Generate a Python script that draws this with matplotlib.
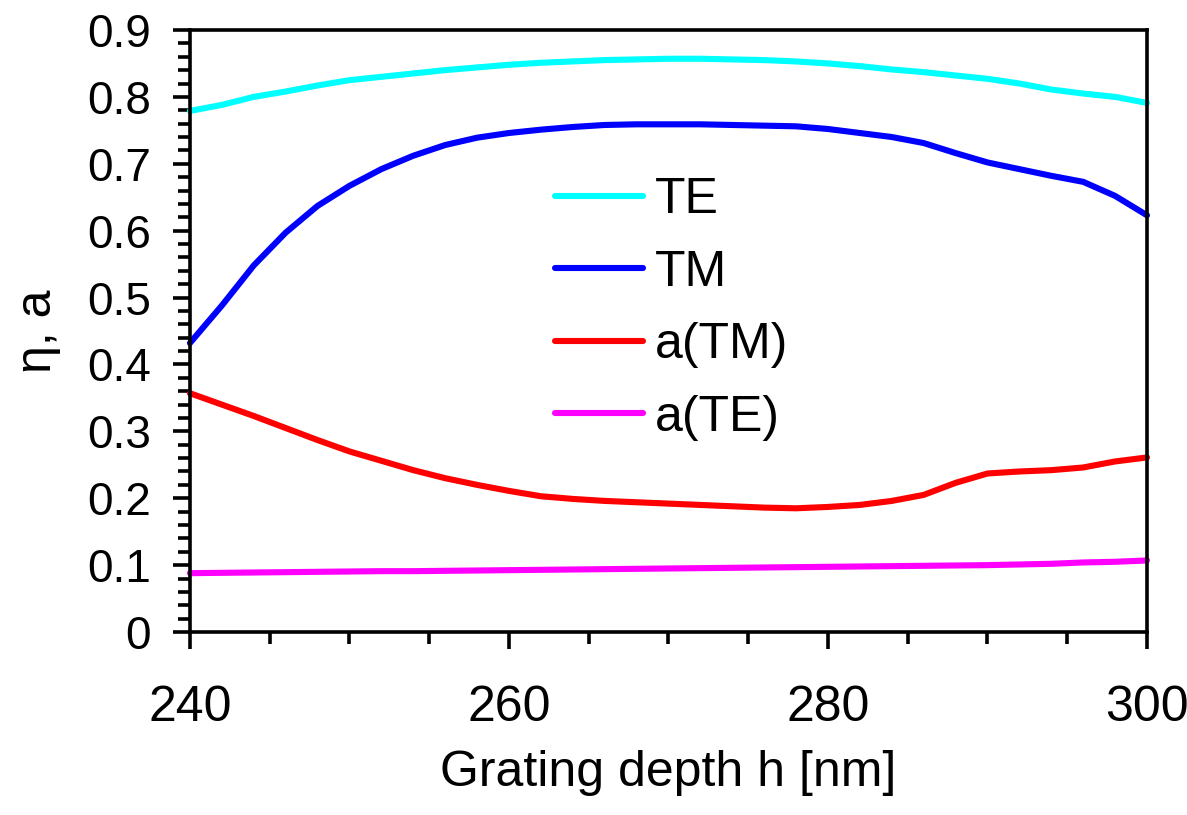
import matplotlib
matplotlib.use("Agg")
import matplotlib.pyplot as plt
from matplotlib.ticker import MultipleLocator

plt.rcParams['font.family'] = ['Liberation Sans', 'DejaVu Sans']

# --- DATA ---
depth = [240, 242, 244, 246, 248, 250, 252, 254, 256, 258, 260, 262, 264, 266, 268,
         270, 272, 274, 276, 278, 280, 282, 284, 286, 288, 290, 292, 294, 296, 298, 300]

eta_te = [0.779, 0.788, 0.800, 0.808, 0.817, 0.825, 0.830, 0.835, 0.840, 0.844, 0.848,
          0.851, 0.853, 0.855, 0.856, 0.857, 0.857, 0.856, 0.855, 0.853, 0.850, 0.846,
          0.841, 0.837, 0.832, 0.827, 0.820, 0.811, 0.805, 0.800, 0.791]

eta_tm = [0.432, 0.488, 0.548, 0.597, 0.637, 0.667, 0.692, 0.712, 0.728, 0.739, 0.746,
          0.751, 0.755, 0.758, 0.759, 0.759, 0.759, 0.758, 0.757, 0.756, 0.752, 0.746,
          0.740, 0.731, 0.716, 0.702, 0.692, 0.682, 0.673, 0.652, 0.623]

a_tm = [0.357, 0.340, 0.323, 0.305, 0.287, 0.270, 0.256, 0.242, 0.230, 0.220, 0.211,
        0.203, 0.199, 0.196, 0.194, 0.192, 0.190, 0.188, 0.186, 0.185, 0.187, 0.190,
        0.196, 0.205, 0.223, 0.237, 0.240, 0.242, 0.246, 0.255, 0.261]

a_te = [0.088, 0.0885, 0.089, 0.0895, 0.090, 0.0905, 0.091, 0.091, 0.0915, 0.092, 0.0925,
        0.093, 0.0935, 0.094, 0.0945, 0.095, 0.0955, 0.096, 0.0965, 0.097, 0.0975, 0.098,
        0.0985, 0.099, 0.0995, 0.100, 0.101, 0.102, 0.104, 0.105, 0.107]

series = [("TE", eta_te, "#00FFFF"),
          ("TM", eta_tm, "#0000FF"),
          ("a(TM)", a_tm, "#FF0000"),
          ("a(TE)", a_te, "#FF00FF")]

# --- FIGURE ---
fig = plt.figure(figsize=(11.87, 8.15), dpi=100)
ax = fig.add_axes([0.160, 0.2245, 0.8063, 0.7387])

for name, vals, col in series:
    ax.plot(depth, vals, color=col, lw=4.4, label=name,
            solid_capstyle='round', solid_joinstyle='round', clip_on=False)

ax.set_xlim(240, 300)
ax.set_ylim(0, 0.9)
ax.xaxis.set_major_locator(MultipleLocator(20))
ax.xaxis.set_minor_locator(MultipleLocator(5))
ax.yaxis.set_major_locator(MultipleLocator(0.1))
ax.yaxis.set_minor_locator(MultipleLocator(0.02))
ax.yaxis.set_major_formatter(plt.FuncFormatter(lambda v, p: "0" if abs(v) < 1e-9 else f"{v:.1f}"))

for s in ax.spines.values():
    s.set_linewidth(2.6)
ax.tick_params(which='major', direction='out', length=12, width=2.6)
ax.tick_params(which='minor', direction='out', length=8.6, width=2.6)
ax.tick_params(axis='y', which='major', labelsize=33, pad=16)
ax.tick_params(axis='x', which='major', labelsize=36, pad=26)

ax.set_xlabel('Grating depth h [nm]', fontsize=36, labelpad=14)
ax.set_ylabel('η, a', fontsize=36, labelpad=19)

leg = ax.legend(loc='upper left', bbox_to_anchor=(0.381, 0.755), frameon=False,
                fontsize=36, handlelength=1.76, handletextpad=0.24,
                labelspacing=0.53, borderpad=0, borderaxespad=0)
for line in leg.get_lines():
    line.set_solid_capstyle('round')

fig.savefig('out.png', dpi=100)
